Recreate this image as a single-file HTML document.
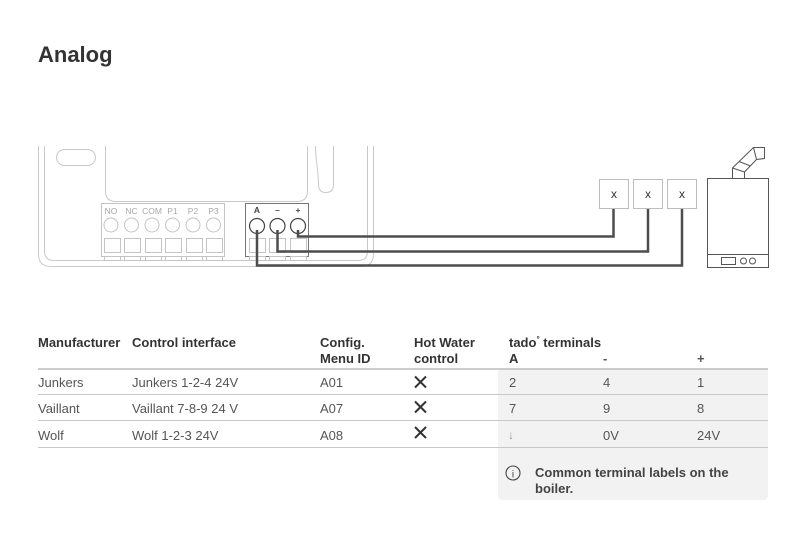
<!DOCTYPE html>
<html><head><meta charset="utf-8"><style>
html,body{margin:0;padding:0;background:#fff;}
svg{display:block;}
text{font-family:"Liberation Sans",Arial,sans-serif;}
</style></head><body>
<svg width="800" height="549" viewBox="0 0 800 549" xmlns="http://www.w3.org/2000/svg">
<rect width="800" height="549" fill="#fff"/>
<text x="38" y="62" font-size="22" font-weight="bold" fill="#333">Analog</text>

<!-- thermostat device outline -->
<g fill="none" stroke="#c9c9c9" stroke-width="1">
<path d="M38.5,146 V254 Q38.5,266.5 51,266.5 H361 Q373.5,266.5 373.5,254 V146"/>
<path d="M44.5,146 V251 Q44.5,260.5 54,260.5 H358 Q367.5,260.5 367.5,251 V146"/>
<rect x="56.5" y="149.5" width="39" height="16" rx="8"/>
<path d="M105.5,146 V191 Q105.5,201.5 116,201.5 H297 Q307.5,201.5 307.5,191 V146"/>
<path d="M315.5,146 C315.5,160 318.5,172 318.5,184 Q318.5,192.5 325.5,192.5 Q333.5,192.5 333.5,184 V146"/>
</g>

<!-- left terminal block -->
<g fill="#fff" stroke="#c4c4c4" stroke-width="1">
<rect x="101.5" y="203.5" width="123" height="53"/>
<g>
<circle cx="111" cy="225" r="7"/><circle cx="131.5" cy="225" r="7"/><circle cx="152" cy="225" r="7"/>
<circle cx="172.5" cy="225" r="7"/><circle cx="193" cy="225" r="7"/><circle cx="213.5" cy="225" r="7"/>
</g>
<g>
<rect x="104.5" y="238.5" width="16" height="14"/><rect x="124.5" y="238.5" width="16" height="14"/>
<rect x="145.5" y="238.5" width="16" height="14"/><rect x="165.5" y="238.5" width="16" height="14"/>
<rect x="186.5" y="238.5" width="16" height="14"/><rect x="206.5" y="238.5" width="16" height="14"/>
</g>
<g>
<rect x="104.5" y="256.5" width="16" height="4"/><rect x="124.5" y="256.5" width="16" height="4"/>
<rect x="145.5" y="256.5" width="16" height="4"/><rect x="165.5" y="256.5" width="16" height="4"/>
<rect x="186.5" y="256.5" width="16" height="4"/><rect x="206.5" y="256.5" width="16" height="4"/>
</g>
</g>
<g font-size="8.5" fill="#a8a8a8" text-anchor="middle">
<text x="111" y="214">NO</text><text x="131.5" y="214">NC</text><text x="152" y="214">COM</text>
<text x="172.5" y="214">P1</text><text x="193" y="214">P2</text><text x="213.5" y="214">P3</text>
</g>

<!-- right terminal block -->
<g fill="#fff">
<rect x="245.5" y="203.5" width="63" height="53" stroke="#777" stroke-width="1"/>
<g stroke="#c4c4c4">
<rect x="249.5" y="238.5" width="16" height="14"/><rect x="269.5" y="238.5" width="16" height="14"/><rect x="290.5" y="238.5" width="16" height="14"/>
<rect x="249.5" y="256.5" width="16" height="4"/><rect x="269.5" y="256.5" width="16" height="4"/><rect x="290.5" y="256.5" width="16" height="4"/>
</g>
<g stroke="#444" stroke-width="1.2">
<circle cx="257" cy="226" r="7.5"/><circle cx="277.5" cy="226" r="7.5"/><circle cx="298" cy="226" r="7.5"/>
</g>
</g>
<g font-size="8.5" fill="#444" font-weight="bold" text-anchor="middle">
<text x="257" y="213">A</text><text x="277.5" y="213">–</text><text x="298" y="213">+</text>
</g>

<!-- wires -->
<g fill="none" stroke="#4d4d4d" stroke-width="2.5">
<path d="M298,230 V236.5 H613.5 V208"/>
<path d="M277.5,230 V251.5 H648 V208"/>
<path d="M257,230 V265.5 H682 V208"/>
</g>

<!-- X boxes -->
<g fill="#fff" stroke="#bdbdbd" stroke-width="1">
<rect x="599.5" y="179.5" width="29" height="29"/>
<rect x="633.5" y="179.5" width="29" height="29"/>
<rect x="667.5" y="179.5" width="29" height="29"/>
</g>
<g font-size="12" fill="#333" text-anchor="middle">
<text x="614" y="198">x</text><text x="648" y="198">x</text><text x="682" y="198">x</text>
</g>

<!-- boiler -->
<g fill="none" stroke="#555" stroke-width="1">
<rect x="707.5" y="178.5" width="61" height="89"/>
<line x1="707.5" y1="254.5" x2="768.5" y2="254.5"/>
<rect x="721.5" y="257.5" width="14" height="7"/>
<circle cx="743.5" cy="261" r="3"/>
<circle cx="752.5" cy="261" r="3"/>
<path d="M732.5,178 V168 L753.5,147.5 H764.5 V158.5 L756.5,159.5 L744.5,172 L744.5,178"/>
<line x1="732.5" y1="168" x2="744.5" y2="172"/>
<line x1="739" y1="161.5" x2="750.5" y2="166"/>
<line x1="753.5" y1="147.5" x2="756.5" y2="159.5"/>
</g>

<!-- table -->
<path d="M498,369 H768 V495 Q768,500 763,500 H503 Q498,500 498,495 Z" fill="#f2f2f2"/>
<g font-size="13" font-weight="bold" fill="#333">
<text x="38" y="347">Manufacturer</text>
<text x="132" y="347">Control interface</text>
<text x="320" y="347">Config.</text>
<text x="320" y="363">Menu ID</text>
<text x="414" y="347">Hot Water</text>
<text x="414" y="363">control</text>
<text x="509" y="347">tado<tspan font-size="8" dy="-5">°</tspan><tspan dy="5"> terminals</tspan></text>
<text x="509" y="363">A</text>
<text x="603" y="363" fill="#555">-</text>
<text x="697" y="363" fill="#555">+</text>
</g>
<g stroke="#c8c8c8" stroke-width="1">
<line x1="38" y1="369" x2="768" y2="369" stroke="#bbb" stroke-width="1.5"/>
<line x1="38" y1="394.5" x2="768" y2="394.5"/>
<line x1="38" y1="420.5" x2="768" y2="420.5"/>
<line x1="38" y1="447.5" x2="768" y2="447.5"/>
</g>
<g font-size="13" fill="#555">
<text x="38" y="387">Junkers</text>
<text x="132" y="387">Junkers 1-2-4 24V</text>
<text x="320" y="387">A01</text>
<text x="509" y="387">2</text><text x="603" y="387">4</text><text x="697" y="387">1</text>
<text x="38" y="413">Vaillant</text>
<text x="132" y="413">Vaillant 7-8-9 24 V</text>
<text x="320" y="413">A07</text>
<text x="509" y="413">7</text><text x="603" y="413">9</text><text x="697" y="413">8</text>
<text x="38" y="440">Wolf</text>
<text x="132" y="440">Wolf 1-2-3 24V</text>
<text x="320" y="440">A08</text>
<text x="508" y="439" font-size="12" fill="#999">↓</text>
<text x="603" y="440">0V</text><text x="697" y="440">24V</text>
</g>
<g stroke="#333" stroke-width="2" stroke-linecap="butt">
<path d="M415,376.5 L426,387.5 M426,376.5 L415,387.5"/>
<path d="M415,401.5 L426,412.5 M426,401.5 L415,412.5"/>
<path d="M415,427 L426,438 M426,427 L415,438"/>
</g>

<!-- note -->
<circle cx="513" cy="473" r="7" fill="none" stroke="#444" stroke-width="1.1"/>
<text x="513" y="477.5" font-size="10" fill="#444" text-anchor="middle">i</text>
<g font-size="13" font-weight="bold" fill="#444">
<text x="535" y="477">Common terminal labels on the</text>
<text x="535" y="493">boiler.</text>
</g>
</svg>
</body></html>
